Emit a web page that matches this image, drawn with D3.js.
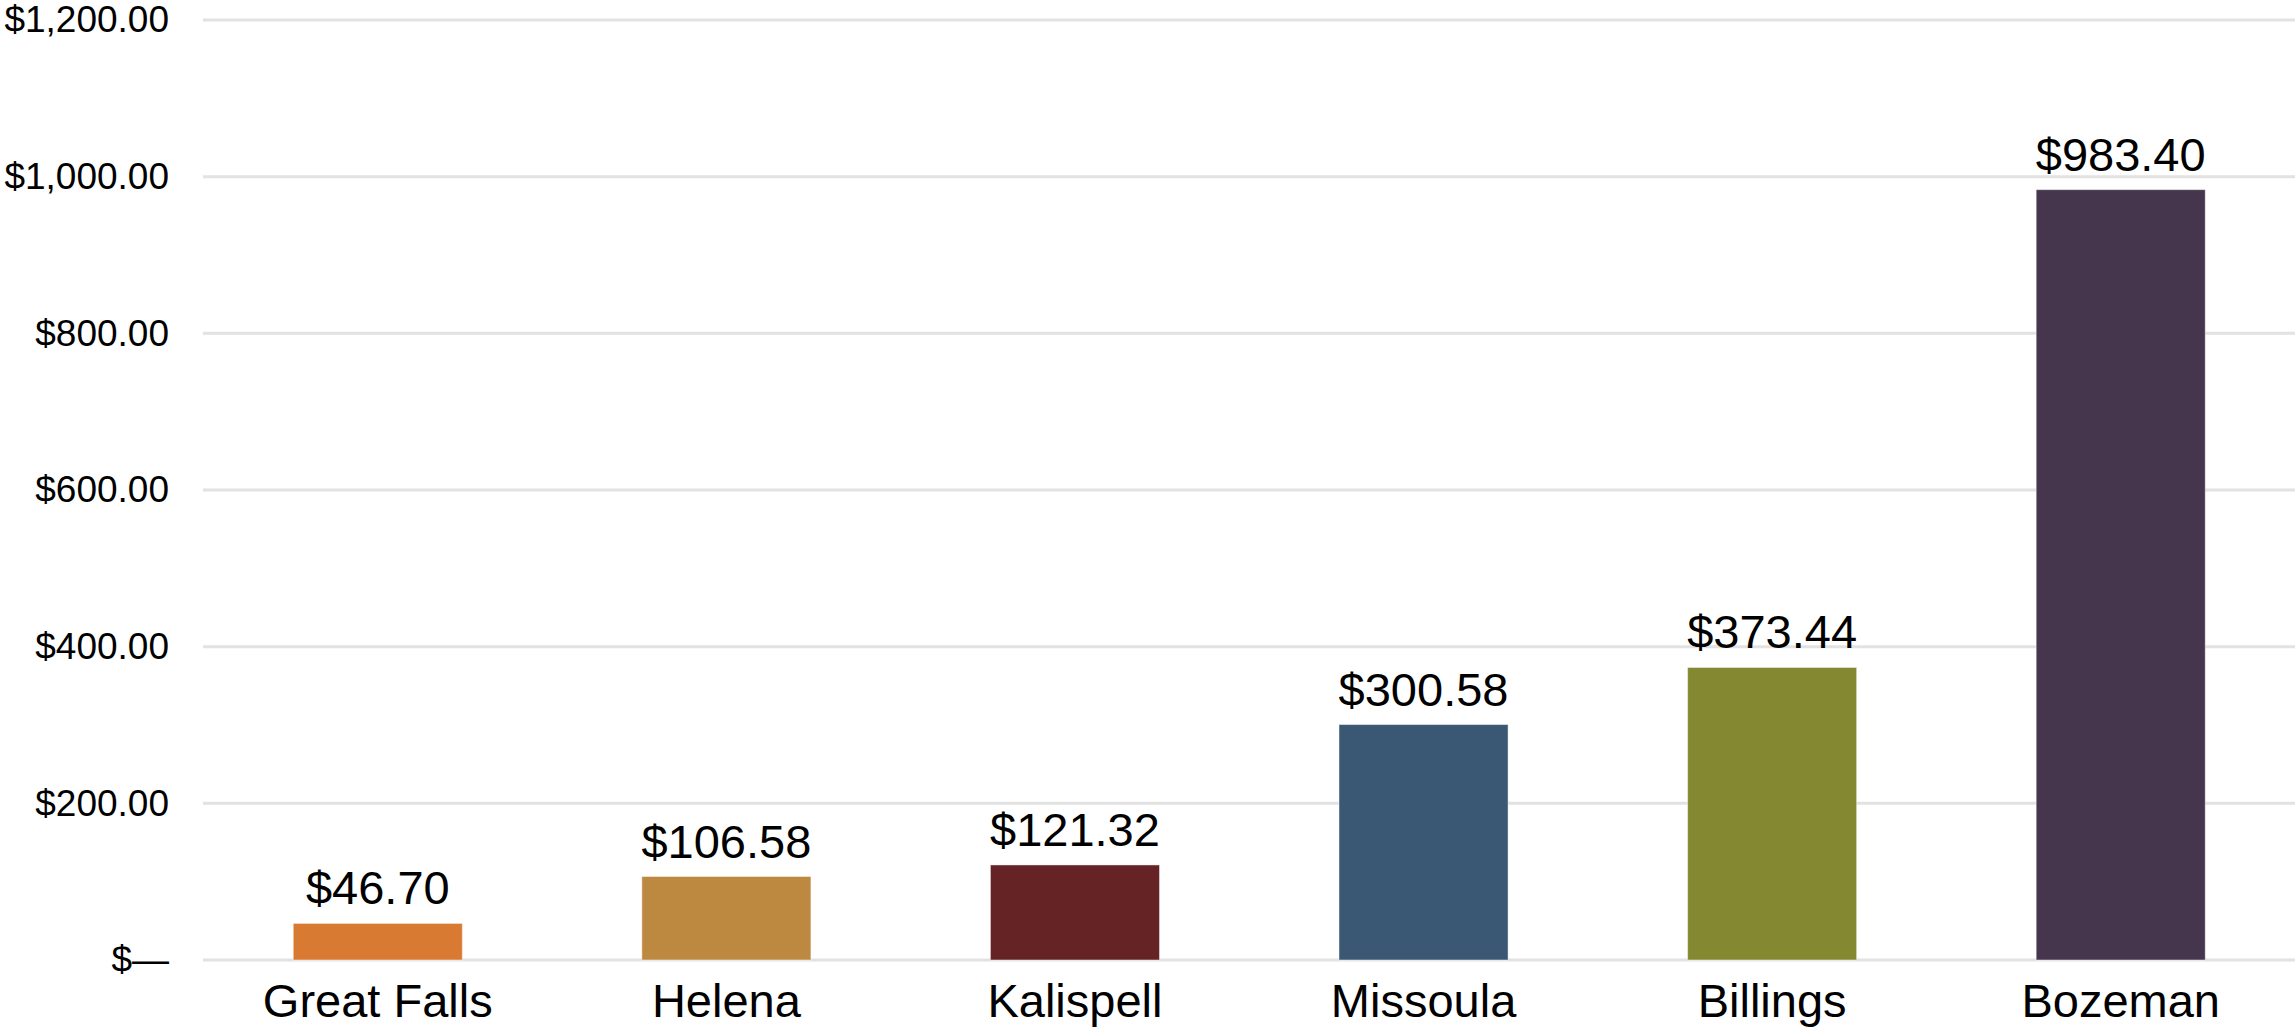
<!DOCTYPE html>
<html>
<head>
<meta charset="utf-8">
<script src="https://cdn.jsdelivr.net/npm/d3@7"></script>
<style>
	html, body { margin: 0; padding: 0; background: #ffffff; }
	svg { display: block; }
	text { font-family: "Liberation Sans", Arial, Helvetica, sans-serif; fill: #000000; }
</style>
</head>
<body>
<script>
// chart data
var cities = ['Great Falls', 'Helena', 'Kalispell', 'Missoula', 'Billings', 'Bozeman'];
var amounts = [46.70, 106.58, 121.32, 300.58, 373.44, 983.40];
var barColors = ['#d97a32', '#bd8941', '#662326', '#3a5873', '#848931', '#45354d'];
var yTicks = [0, 200, 400, 600, 800, 1000, 1200];

var w = 2295;
var h = 1028;

var svg = d3.select('body')
	.append('svg')
	.attr('width', w)
	.attr('height', h);

var x = d3.scaleBand()
	.domain(cities)
	.range([203.5, 2295])
	.paddingInner(0.515)
	.paddingOuter(0.2575);

var y = d3.scaleLinear()
	.domain([0, 1200])
	.range([960, 20]);

var money = d3.format('$,.2f');
function tickText(d){
	if(d == 0) return '$\u2014';
	return money(d);
}

// gridlines
svg.append('g')
	.selectAll('line')
	.data(yTicks)
	.enter()
	.append('line')
	.attr('x1', 203)
	.attr('x2', w)
	.attr('y1', function(d){ return y(d); })
	.attr('y2', function(d){ return y(d); })
	.attr('stroke', '#e2e2e2')
	.attr('stroke-width', 3);

// y axis labels
var yAxis = d3.axisLeft(y)
	.tickValues(yTicks)
	.tickFormat(tickText)
	.tickSize(0)
	.tickPadding(0);

var gy = svg.append('g')
	.attr('transform', 'translate(169,0)')
	.call(yAxis);
gy.select('.domain').remove();
gy.selectAll('text')
	.attr('font-size', '37px')
	.attr('font-family', '"Liberation Sans", Arial, sans-serif')
	.attr('fill', '#000');

// bars
svg.append('g')
	.selectAll('rect')
	.data(amounts)
	.enter()
	.append('rect')
	.attr('x', function(d, i){ return x(cities[i]); })
	.attr('y', function(d){ return y(d); })
	.attr('width', x.bandwidth())
	.attr('height', function(d){ return y(0) - y(d); })
	.attr('fill', function(d, i){ return barColors[i]; })
	.attr('stroke', 'rgba(255,255,255,0.45)')
	.attr('stroke-width', 1);

// value labels
svg.append('g')
	.selectAll('text')
	.data(amounts)
	.enter()
	.append('text')
	.attr('x', function(d, i){ return x(cities[i]) + x.bandwidth() / 2; })
	.attr('y', function(d){ return y(d) - 19; })
	.attr('text-anchor', 'middle')
	.attr('font-size', '47px')
	.text(function(d){ return money(d); });

// x axis labels
var xAxis = d3.axisBottom(x)
	.tickSize(0)
	.tickPadding(0);

var gx = svg.append('g')
	.attr('transform', 'translate(0,1017)')
	.call(xAxis);
gx.select('.domain').remove();
gx.selectAll('text')
	.attr('dy', 0)
	.attr('font-size', '47px')
	.attr('font-family', '"Liberation Sans", Arial, sans-serif')
	.attr('fill', '#000');
</script>
</body>
</html>
